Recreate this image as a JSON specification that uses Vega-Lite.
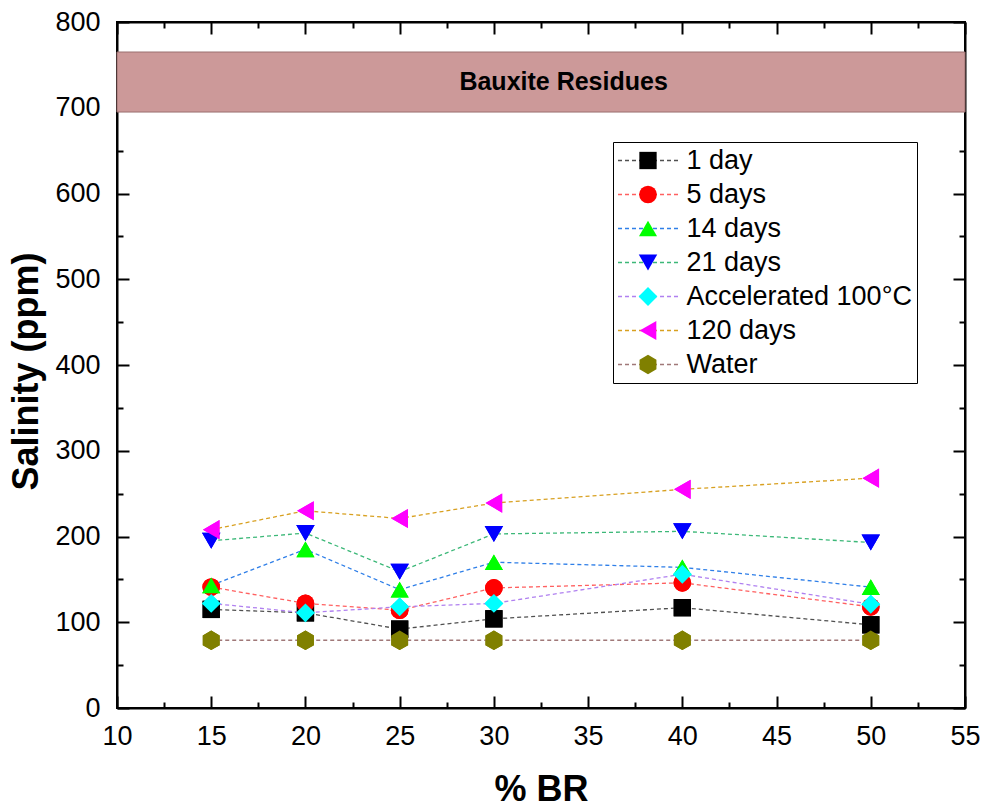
{
  "$schema": "https://vega.github.io/schema/vega-lite/v6.json",
  "width": 848,
  "height": 686,
  "autosize": {"type": "none"},
  "padding": {"left": 117, "top": 22, "right": 23, "bottom": 101},
  "background": "white",
  "config": {
    "view": {"stroke": "black", "strokeWidth": 2},
    "font": "Liberation Sans"
  },
  "datasets": {
    "series": [
      {"series": "1 day", "pct": 15, "salinity": 115},
      {"series": "1 day", "pct": 20, "salinity": 111},
      {"series": "1 day", "pct": 25, "salinity": 92},
      {"series": "1 day", "pct": 30, "salinity": 104},
      {"series": "1 day", "pct": 40, "salinity": 117},
      {"series": "1 day", "pct": 50, "salinity": 97},
      {"series": "5 days", "pct": 15, "salinity": 141},
      {"series": "5 days", "pct": 20, "salinity": 122},
      {"series": "5 days", "pct": 25, "salinity": 114},
      {"series": "5 days", "pct": 30, "salinity": 140},
      {"series": "5 days", "pct": 40, "salinity": 146},
      {"series": "5 days", "pct": 50, "salinity": 118},
      {"series": "14 days", "pct": 15, "salinity": 143},
      {"series": "14 days", "pct": 20, "salinity": 185},
      {"series": "14 days", "pct": 25, "salinity": 138},
      {"series": "14 days", "pct": 30, "salinity": 170},
      {"series": "14 days", "pct": 40, "salinity": 164},
      {"series": "14 days", "pct": 50, "salinity": 141},
      {"series": "21 days", "pct": 15, "salinity": 195},
      {"series": "21 days", "pct": 20, "salinity": 204},
      {"series": "21 days", "pct": 25, "salinity": 159},
      {"series": "21 days", "pct": 30, "salinity": 203},
      {"series": "21 days", "pct": 40, "salinity": 206},
      {"series": "21 days", "pct": 50, "salinity": 193},
      {"series": "Accelerated 100°C", "pct": 15, "salinity": 122},
      {"series": "Accelerated 100°C", "pct": 20, "salinity": 111},
      {"series": "Accelerated 100°C", "pct": 25, "salinity": 118},
      {"series": "Accelerated 100°C", "pct": 30, "salinity": 122},
      {"series": "Accelerated 100°C", "pct": 40, "salinity": 156},
      {"series": "Accelerated 100°C", "pct": 50, "salinity": 121},
      {"series": "120 days", "pct": 15, "salinity": 208},
      {"series": "120 days", "pct": 20, "salinity": 230},
      {"series": "120 days", "pct": 25, "salinity": 221},
      {"series": "120 days", "pct": 30, "salinity": 239},
      {"series": "120 days", "pct": 40, "salinity": 255},
      {"series": "120 days", "pct": 50, "salinity": 268},
      {"series": "Water", "pct": 15, "salinity": 79},
      {"series": "Water", "pct": 20, "salinity": 79},
      {"series": "Water", "pct": 25, "salinity": 79},
      {"series": "Water", "pct": 30, "salinity": 79},
      {"series": "Water", "pct": 40, "salinity": 79},
      {"series": "Water", "pct": 50, "salinity": 79}
    ],
    "band": [
      {"lo": 695, "hi": 765, "label": "Bauxite Residues", "x": 33.7, "y": 730}
    ]
  },
  "layer": [
    {
      "data": {"name": "band"},
      "mark": {"type": "rect", "fill": "#cc9999", "stroke": "#9a7070", "strokeWidth": 1},
      "encoding": {
        "y": {"field": "lo", "type": "quantitative", "scale": {"domain": [0, 800], "nice": false, "zero": false}, "axis": null},
        "y2": {"field": "hi"}
      }
    },
    {
      "data": {"name": "band"},
      "mark": {"type": "text", "fontWeight": "bold", "fontSize": 25, "color": "black", "font": "Liberation Sans"},
      "encoding": {
        "x": {"field": "x", "type": "quantitative", "scale": {"domain": [10, 55], "nice": false, "zero": false}, "axis": null},
        "y": {"field": "y", "type": "quantitative", "axis": null},
        "text": {"field": "label"}
      }
    },
    {
      "data": {"name": "series"},
      "mark": {"type": "point", "filled": true, "opacity": 1, "strokeWidth": 0},
      "encoding": {
        "x": {"field": "pct", "type": "quantitative", "axis": null},
        "y": {"field": "salinity", "type": "quantitative", "axis": null},
        "fill": {
          "field": "series", "type": "nominal",
          "scale": {
            "domain": ["1 day", "5 days", "14 days", "21 days", "Accelerated 100°C", "120 days", "Water"],
            "range": ["#000000", "#ff0000", "#00ff00", "#0000ff", "#00ffff", "#ff00ff", "#808000"]
          },
          "legend": {
            "orient": "none", "legendX": 496, "legendY": 120, "title": null,
            "symbolStrokeWidth": 0, "clipHeight": 27, "rowPadding": 6, "padding": 5,
            "symbolOffset": 16.5, "labelOffset": 25, "labelFontSize": 27, "labelColor": "black", "labelLimit": 0,
            "strokeColor": "black", "zindex": 2
          }
        },
        "shape": {
          "field": "series", "type": "nominal",
          "scale": {
            "domain": ["1 day", "5 days", "14 days", "21 days", "Accelerated 100°C", "120 days", "Water"],
            "range": ["square", "circle", "triangle-up", "triangle-down", "diamond", "triangle-left", "M0,-1L0.866,-0.5L0.866,0.5L0,1L-0.866,0.5L-0.866,-0.5Z"]
          },
          "legend": {
            "orient": "none", "legendX": 496, "legendY": 120, "title": null,
            "symbolStrokeWidth": 0, "clipHeight": 27, "rowPadding": 6, "padding": 5,
            "symbolOffset": 16.5, "labelOffset": 25, "labelFontSize": 27, "labelColor": "black", "labelLimit": 0,
            "strokeColor": "black", "zindex": 2
          }
        },
        "size": {
          "field": "series", "type": "nominal",
          "scale": {
            "domain": ["1 day", "5 days", "14 days", "21 days", "Accelerated 100°C", "120 days", "Water"],
            "range": [300, 380, 470, 470, 470, 470, 400]
          },
          "legend": {
            "orient": "none", "legendX": 496, "legendY": 120, "title": null,
            "symbolStrokeWidth": 0, "clipHeight": 27, "rowPadding": 6, "padding": 5,
            "symbolOffset": 16.5, "labelOffset": 25, "labelFontSize": 27, "labelColor": "black", "labelLimit": 0,
            "strokeColor": "black", "zindex": 2
          }
        }
      }
    },
    {
      "data": {"name": "series"},
      "mark": {"type": "line", "strokeDash": [4, 3], "strokeWidth": 1.3},
      "encoding": {
        "x": {"field": "pct", "type": "quantitative", "axis": null},
        "y": {"field": "salinity", "type": "quantitative", "axis": null},
        "stroke": {
          "field": "series", "type": "nominal", "sort": null,
          "scale": {"range": ["#505050", "#ff6060", "#2f7fe8", "#3cb878", "#b080f0", "#d8a020", "#a07878"]},
          "legend": {
            "orient": "top-left", "offset": 120, "title": null,
            "symbolType": "stroke", "symbolSize": 3844, "symbolStrokeWidth": 1.5,
            "symbolDash": [4, 3], "clipHeight": 27, "rowPadding": 6, "padding": 5,
            "symbolOffset": 375, "labelFontSize": 27, "labelExpr": "''", "labelLimit": 0, "zindex": 1
          }
        }
      }
    },
    {
      "data": {"name": "series"},
      "mark": {"type": "point", "filled": true, "opacity": 1, "strokeWidth": 0},
      "encoding": {
        "x": {
          "field": "pct", "type": "quantitative",
          "axis": {
            "orient": "bottom",
            "values": [10, 12.5, 15, 17.5, 20, 22.5, 25, 27.5, 30, 32.5, 35, 37.5, 40, 42.5, 45, 47.5, 50, 52.5, 55],
            "labelExpr": "datum.value % 5 === 0 ? datum.label : ''",
            "tickSize": {"condition": {"test": "datum.value % 5 === 0", "value": -12}, "value": -6},
            "tickWidth": 2, "tickColor": "black", "domainColor": "black", "domainWidth": 2,
            "labelFontSize": 27, "labelColor": "black", "labelPadding": 27, "labelOverlap": false, "labelFlush": false,
            "grid": false, "title": "% BR", "titleFontSize": 36, "titleFontWeight": "bold", "titleColor": "black", "titlePadding": 17
          }
        },
        "y": {
          "field": "salinity", "type": "quantitative",
          "axis": {
            "orient": "left",
            "values": [0, 50, 100, 150, 200, 250, 300, 350, 400, 450, 500, 550, 600, 650, 700, 750, 800],
            "labelExpr": "datum.value % 100 === 0 ? datum.label : ''",
            "tickSize": {"condition": {"test": "datum.value % 100 === 0", "value": -12}, "value": -6},
            "tickWidth": 2, "tickColor": "black", "domainColor": "black", "domainWidth": 2,
            "labelFontSize": 27, "labelColor": "black", "labelPadding": 29, "labelOverlap": false, "labelFlush": false,
            "grid": false, "title": "Salinity (ppm)", "titleFontSize": 36, "titleFontWeight": "bold", "titleColor": "black", "titlePadding": 9, "titleY": 349
          }
        },
        "fill": {
          "field": "series", "type": "nominal",
          "scale": {
            "domain": ["1 day", "5 days", "14 days", "21 days", "Accelerated 100°C", "120 days", "Water"],
            "range": ["#000000", "#ff0000", "#00ff00", "#0000ff", "#00ffff", "#ff00ff", "#808000"]
          }
        },
        "shape": {
          "field": "series", "type": "nominal",
          "scale": {
            "domain": ["1 day", "5 days", "14 days", "21 days", "Accelerated 100°C", "120 days", "Water"],
            "range": ["square", "circle", "triangle-up", "triangle-down", "diamond", "triangle-left", "M0,-1L0.866,-0.5L0.866,0.5L0,1L-0.866,0.5L-0.866,-0.5Z"]
          }
        },
        "size": {
          "field": "series", "type": "nominal",
          "scale": {
            "domain": ["1 day", "5 days", "14 days", "21 days", "Accelerated 100°C", "120 days", "Water"],
            "range": [300, 380, 470, 470, 470, 470, 400]
          }
        }
      }
    },
    {
      "data": {"name": "series"},
      "mark": {"type": "point", "opacity": 0},
      "encoding": {
        "x": {
          "field": "pct", "type": "quantitative",
          "axis": {
            "orient": "top",
            "values": [10, 12.5, 15, 17.5, 20, 22.5, 25, 27.5, 30, 32.5, 35, 37.5, 40, 42.5, 45, 47.5, 50, 52.5, 55],
            "labels": false, "title": null, "grid": false,
            "tickSize": {"condition": {"test": "datum.value % 5 === 0", "value": -12}, "value": -6},
            "tickWidth": 2, "tickColor": "black", "domainColor": "black", "domainWidth": 2
          }
        },
        "y": {
          "field": "salinity", "type": "quantitative",
          "axis": {
            "orient": "right",
            "values": [0, 50, 100, 150, 200, 250, 300, 350, 400, 450, 500, 550, 600, 650, 700, 750, 800],
            "labels": false, "title": null, "grid": false,
            "tickSize": {"condition": {"test": "datum.value % 100 === 0", "value": -12}, "value": -6},
            "tickWidth": 2, "tickColor": "black", "domainColor": "black", "domainWidth": 2
          }
        }
      }
    }
  ],
  "resolve": {"axis": {"x": "independent", "y": "independent"}}
}
